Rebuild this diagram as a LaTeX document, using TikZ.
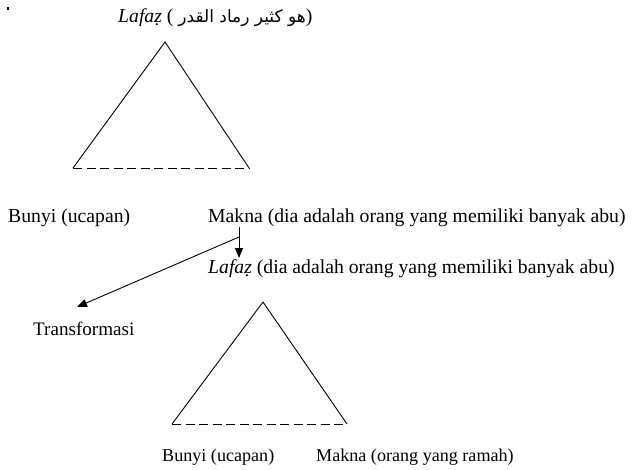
\documentclass[tikz,border=0pt]{standalone}
\usepackage{fontspec}
\setmainfont{Liberation Serif}
\newfontfamily\arabicfont[Script=Arabic]{DejaVu Sans}
\TeXXeTstate=1
\usetikzlibrary{arrows.meta}
\begin{document}
\begin{tikzpicture}[x=1pt,y=-1pt,
  txt/.style={inner sep=0pt, anchor=base west, font=\fontsize{19.7}{22}\selectfont},
  small/.style={txt, font=\fontsize{18.1}{21}\selectfont},
  side/.style={line width=0.9pt, line join=miter},
  base/.style={line width=0.9pt, dash pattern=on 9pt off 4.5pt},
  link/.style={line width=0.9pt, -{Triangle[length=10pt,width=8pt]}}]
\useasboundingbox (0,0) rectangle (632,469);

% stray mark in the corner
\node[fill=black, inner sep=0pt, minimum size=2.4pt] (dot) at (8,8.5) {};

% first level: the expression and its triangle
\node[txt] (lafaz1) at (118,22) {\textit{Lafaẓ} ( {\arabicfont\fontsize{17}{20}\selectfont\beginR هو كثير رماد القدر\endR})};
\coordinate (t1a) at (165,42);
\coordinate (t1l) at (73,168);
\coordinate (t1r) at (249,168);
\draw[side] (t1l) -- (t1a) -- (t1r);
\draw[base] (t1l) -- (t1r);

\node[txt] (bunyi1) at (8,222) {Bunyi (ucapan)};
\node[txt] (makna1) at (208,222) {Makna (dia adalah orang yang memiliki banyak abu)};

% second level
\node[txt] (lafaz2) at (208,273) {\textit{Lafaẓ} (dia adalah orang yang memiliki banyak abu)};
\node[txt, font=\fontsize{19.1}{22}\selectfont] (trans) at (33,335) {Transformasi};

\coordinate (v1) at (239,227);
\coordinate (v2) at (239,258);
\coordinate (d1) at (239,237);
\coordinate (d2) at (77,307);
\draw[link] (v1) -- (v2);
\draw[link] (d1) -- (d2);

\coordinate (t2a) at (263,302);
\coordinate (t2l) at (172,424);
\coordinate (t2r) at (347,424);
\draw[side] (t2l) -- (t2a) -- (t2r);
\draw[base] (t2l) -- (t2r);

\node[small] (bunyi2) at (162,461) {Bunyi (ucapan)};
\node[small] (makna2) at (316,461) {Makna (orang yang ramah)};
\end{tikzpicture}
\end{document}
